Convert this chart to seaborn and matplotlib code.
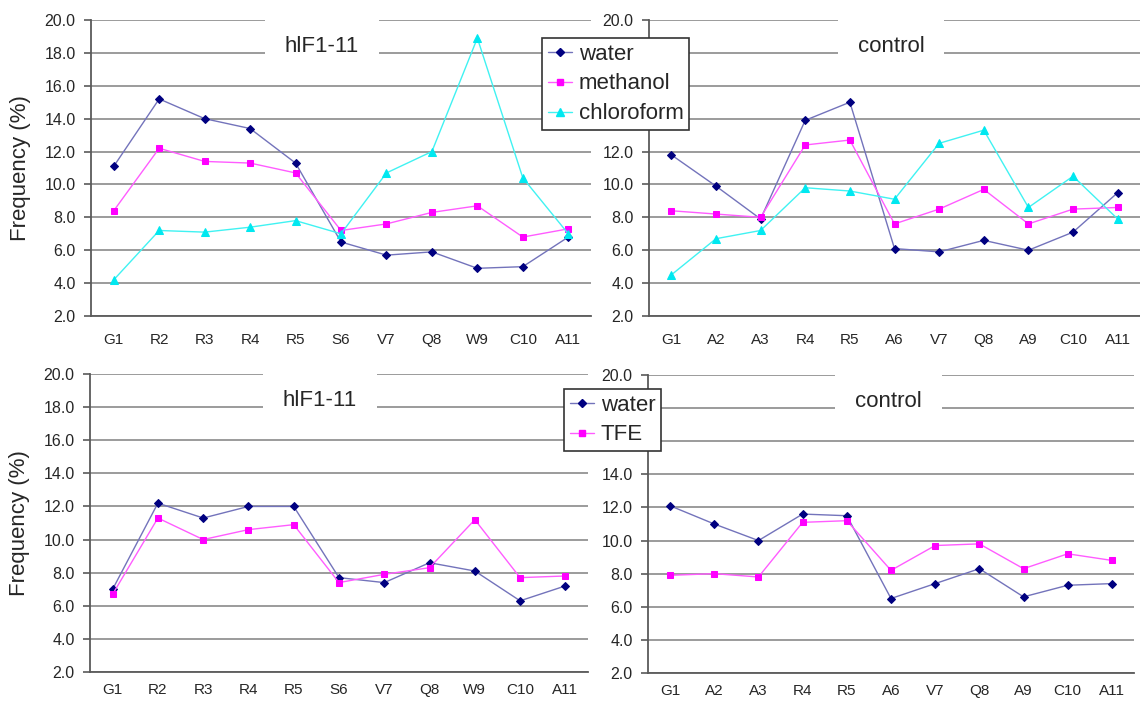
import numpy as np
import pandas as pd
import matplotlib
matplotlib.use('Agg')
import matplotlib.pyplot as plt
from matplotlib.lines import Line2D
import seaborn as sns

# residue labels for the two peptides
hif_residues = ['G1', 'R2', 'R3', 'R4', 'R5', 'S6', 'V7', 'Q8', 'W9', 'C10', 'A11']
ctrl_residues = ['G1', 'A2', 'A3', 'R4', 'R5', 'A6', 'V7', 'Q8', 'A9', 'C10', 'A11']

# top row: water / methanol / chloroform (frequency %)
hif_water = [11.1, 15.2, 14.0, 13.4, 11.3, 6.5, 5.7, 5.9, 4.9, 5.0, 6.8]
hif_methanol = [8.4, 12.2, 11.4, 11.3, 10.7, 7.2, 7.6, 8.3, 8.7, 6.8, 7.3]
hif_chloroform = [4.2, 7.2, 7.1, 7.4, 7.8, 7.0, 10.7, 12.0, 18.9, 10.4, 7.0]

ctrl_water = [11.8, 9.9, 7.9, 13.9, 15.0, 6.1, 5.9, 6.6, 6.0, 7.1, 9.5]
ctrl_methanol = [8.4, 8.2, 8.0, 12.4, 12.7, 7.6, 8.5, 9.7, 7.6, 8.5, 8.6]
ctrl_chloroform = [4.5, 6.7, 7.2, 9.8, 9.6, 9.1, 12.5, 13.3, 8.6, 10.5, 7.9]

# bottom row: water / TFE
hif_water2 = [7.0, 12.2, 11.3, 12.0, 12.0, 7.7, 7.4, 8.6, 8.1, 6.3, 7.2]
hif_tfe = [6.7, 11.3, 10.0, 10.6, 10.9, 7.4, 7.9, 8.3, 11.2, 7.7, 7.8]

ctrl_water2 = [12.1, 11.0, 10.0, 11.6, 11.5, 6.5, 7.4, 8.3, 6.6, 7.3, 7.4]
ctrl_tfe = [7.9, 8.0, 7.8, 11.1, 11.2, 8.2, 9.7, 9.8, 8.3, 9.2, 8.8]

sns.set_style('white')
plt.rcParams['font.family'] = ['Liberation Sans', 'DejaVu Sans']

styles = {
    'water': dict(color='#7373bb', marker='D', mfc='#000080', ms=4.2),
    'methanol': dict(color='#ff5cff', marker='s', mfc='#ff00ff', ms=5),
    'chloroform': dict(color='#40f2f2', marker='^', mfc='#00e8f0', ms=5.5),
    'TFE': dict(color='#ff5cff', marker='s', mfc='#ff00ff', ms=5),
}
axis_grey = '#5a5a5a'


def draw_panel(ax, residues, series, title, title_x, ylabel, xpad, hidden=()):
    pos = np.arange(len(residues))
    for name, vals in series.items():
        st = styles[name]
        df = pd.DataFrame({'pos': pos, 'freq': vals})
        sns.lineplot(data=df, x='pos', y='freq', ax=ax, color=st['color'], linewidth=1,
                     marker=st['marker'], markersize=st['ms'], markerfacecolor=st['mfc'],
                     markeredgecolor=st['mfc'], legend=False, zorder=3)
    ax.set_xlim(-0.5, len(residues) - 0.5)
    ax.set_ylim(2, 20)
    yt = np.arange(2, 20.1, 2)
    ax.set_yticks(yt)
    # labels sitting under the legend box are not visible in the original
    ax.set_yticklabels(['' if round(v) in hidden else f'{v:.1f}' for v in yt])
    ax.set_xticks(pos)
    ax.set_xticklabels(residues)
    ax.set_xticks(np.arange(-0.5, len(residues), 1), minor=True)
    ax.tick_params(axis='x', which='major', length=0, pad=xpad, labelsize=11)
    ax.tick_params(axis='x', which='minor', length=5, direction='out', color=axis_grey, width=1.2)
    ax.tick_params(axis='y', length=5, direction='out', pad=6, labelsize=11.5,
                   color=axis_grey, width=1.2, left=True)
    ax.yaxis.grid(True, color='#8a8a8a', linewidth=1.2)
    ax.xaxis.grid(False)
    ax.set_axisbelow(True)
    for s in ['top', 'right']:
        ax.spines[s].set_visible(False)
    for s in ['left', 'bottom']:
        ax.spines[s].set_color(axis_grey)
        ax.spines[s].set_linewidth(1.3)
    ax.set_xlabel('')
    ax.set_ylabel(ylabel, fontsize=16, labelpad=10)
    ax.text(title_x, 18.4, title, ha='center', va='center', fontsize=16,
            bbox=dict(boxstyle='square,pad=0.9', fc='white', ec='none'), zorder=2)


fig = plt.figure(figsize=(11.4, 7.02), dpi=100)
W, H = 1140, 702
ax_tl = fig.add_axes([91 / W, 1 - 316 / H, 500 / W, 296 / H])
ax_tr = fig.add_axes([649 / W, 1 - 316 / H, 491 / W, 296 / H])
ax_bl = fig.add_axes([90 / W, 1 - 672 / H, 498 / W, 298 / H])
ax_br = fig.add_axes([648 / W, 1 - 673 / H, 486 / W, 298 / H])

draw_panel(ax_tl, hif_residues,
           {'water': hif_water, 'methanol': hif_methanol, 'chloroform': hif_chloroform},
           'hlF1-11', 4.58, 'Frequency (%)', 12)
draw_panel(ax_tr, ctrl_residues,
           {'water': ctrl_water, 'methanol': ctrl_methanol, 'chloroform': ctrl_chloroform},
           'control', 4.92, '', 12, hidden=(14, 16, 18))
draw_panel(ax_bl, hif_residues, {'water': hif_water2, 'TFE': hif_tfe},
           'hlF1-11', 4.58, 'Frequency (%)', 8)
draw_panel(ax_br, ctrl_residues, {'water': ctrl_water2, 'TFE': ctrl_tfe},
           'control', 4.95, '', 8, hidden=(16, 18))


def handles_for(names):
    out = []
    for n in names:
        st = styles[n]
        out.append(Line2D([], [], color=st['color'], linewidth=1, marker=st['marker'],
                          markersize=st['ms'], markerfacecolor=st['mfc'], markeredgecolor=st['mfc']))
    return out


leg_kw = dict(loc='upper left', fontsize=16, frameon=True, fancybox=False, framealpha=1,
              edgecolor='#333333', borderpad=0.25, labelspacing=0.4, handlelength=1.1,
              handletextpad=0.3, borderaxespad=0)
top_names = ['water', 'methanol', 'chloroform']
leg1 = fig.legend(handles_for(top_names), top_names, bbox_to_anchor=(542 / W, 1 - 38 / H), **leg_kw)
leg1.get_frame().set_linewidth(1.2)
bot_names = ['water', 'TFE']
leg2 = fig.legend(handles_for(bot_names), bot_names, bbox_to_anchor=(564 / W, 1 - 389 / H), **leg_kw)
leg2.get_frame().set_linewidth(1.2)

fig.savefig('out.png', dpi=100)
